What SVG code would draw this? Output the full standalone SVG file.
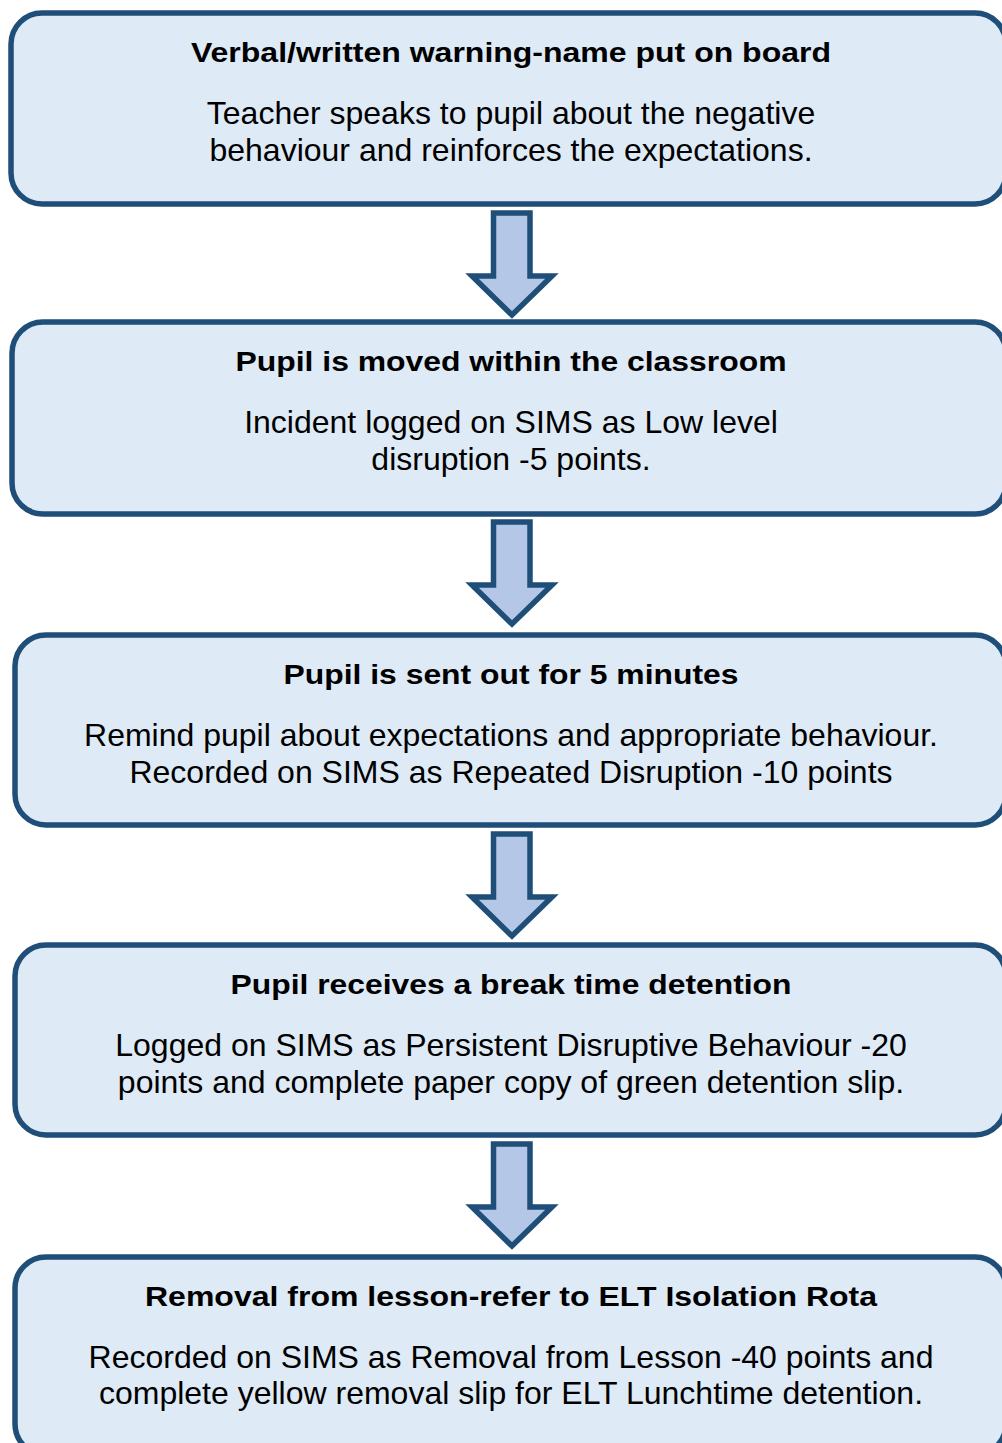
<svg xmlns="http://www.w3.org/2000/svg" width="1002" height="1443" viewBox="0 0 1002 1443">
<style>
.box{fill:#DEEAF6;stroke:#1F4E79;stroke-width:5.5}
.arrow{fill:#B4C7E7;stroke:#1F4E79;stroke-width:5.5;stroke-linejoin:miter}
.t{font-family:"Liberation Sans",Arial,sans-serif;font-weight:bold;font-size:28.5px;fill:#000;text-anchor:middle}
.b{font-family:"Liberation Sans",Arial,sans-serif;font-size:32px;fill:#000;text-anchor:middle}
</style>
<defs>
<path id="arr" d="M493.5,0 H530 V63 H552 L512,102 L472,63 H493.5 Z"/>
</defs>
<rect width="1002" height="1443" fill="#FFFFFF"/>
<g id="connectors">
<use href="#arr" class="arrow" y="213"/>
<use href="#arr" class="arrow" y="522"/>
<use href="#arr" class="arrow" y="834"/>
<use href="#arr" class="arrow" y="1144"/>
</g>
<g id="node1">
<rect class="box" x="11" y="13" width="995" height="191" rx="31" ry="31"/>
<text class="t" x="511" y="62" textLength="640" lengthAdjust="spacingAndGlyphs">Verbal/written warning-name put on board</text>
<text class="b" x="511" y="124">Teacher speaks to pupil about the negative</text>
<text class="b" x="511" y="161">behaviour and reinforces the expectations.</text>
</g>
<g id="node2">
<rect class="box" x="12" y="322" width="994" height="192" rx="31" ry="31"/>
<text class="t" x="511" y="370.5" textLength="551" lengthAdjust="spacingAndGlyphs">Pupil is moved within the classroom</text>
<text class="b" x="511" y="433">Incident logged on SIMS as Low level</text>
<text class="b" x="511" y="470">disruption -5 points.</text>
</g>
<g id="node3">
<rect class="box" x="15" y="635" width="991" height="190" rx="31" ry="31"/>
<text class="t" x="511" y="683.5" textLength="455" lengthAdjust="spacingAndGlyphs">Pupil is sent out for 5 minutes</text>
<text class="b" x="511" y="745.5">Remind pupil about expectations and appropriate behaviour.</text>
<text class="b" x="511" y="783">Recorded on SIMS as Repeated Disruption -10 points</text>
</g>
<g id="node4">
<rect class="box" x="15" y="945" width="991" height="190" rx="31" ry="31"/>
<text class="t" x="511" y="993.5" textLength="561" lengthAdjust="spacingAndGlyphs">Pupil receives a break time detention</text>
<text class="b" x="511" y="1056">Logged on SIMS as Persistent Disruptive Behaviour -20</text>
<text class="b" x="511" y="1093">points and complete paper copy of green detention slip.</text>
</g>
<g id="node5">
<rect class="box" x="15" y="1257" width="991" height="198" rx="31" ry="31"/>
<text class="t" x="511" y="1305.5" textLength="732" lengthAdjust="spacingAndGlyphs">Removal from lesson-refer to ELT Isolation Rota</text>
<text class="b" x="511" y="1367.5">Recorded on SIMS as Removal from Lesson -40 points and</text>
<text class="b" x="511" y="1404">complete yellow removal slip for ELT Lunchtime detention.</text>
</g>
</svg>
